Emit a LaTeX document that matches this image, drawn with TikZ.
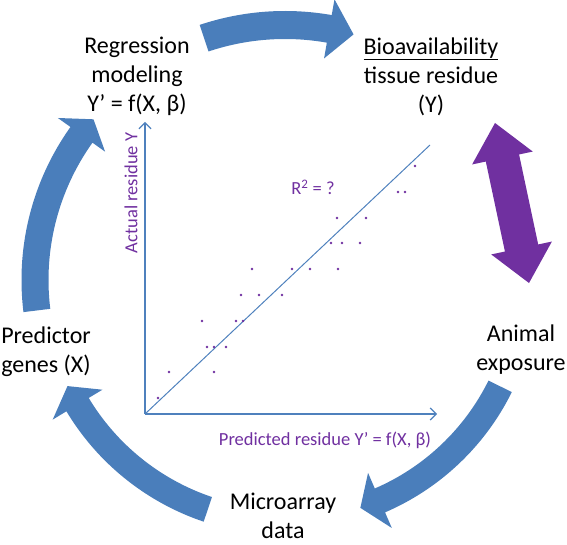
\documentclass[tikz,border=0pt]{standalone}
\usepackage{fontspec}
\setmainfont{Carlito}
\usetikzlibrary{calc,arrows.meta}
\definecolor{arrowblue}{RGB}{74,126,187}
\definecolor{axisblue}{RGB}{79,129,189}
\definecolor{plotpurple}{RGB}{112,48,160}
\newcommand\cyclearrow[6]{%
  \pgfmathsetmacro\rOut{#4+#5}%
  \pgfmathsetmacro\rIn{#4-#5}%
  \pgfmathsetmacro\hOut{#4+#6}%
  \pgfmathsetmacro\hIn{#4-#6}%
  \fill[arrowblue] ($(C)+(#1:\rOut pt)$) arc[start angle=#1,end angle=#2,radius=\rOut pt]
    -- ($(C)+(#2:\hOut pt)$) -- ($(C)+(#3:#4 pt)$) -- ($(C)+(#2:\hIn pt)$)
    -- ($(C)+(#2:\rIn pt)$) arc[start angle=#2,end angle=#1,radius=\rIn pt] -- cycle;}
\tikzset{
  label/.style={font=\fontsize{24}{29}\selectfont, align=center, inner sep=0pt, text=black},
  plottext/.style={font=\fontsize{18.5}{22}\selectfont, text=plotpurple, inner sep=0pt},
  axis/.style={draw=axisblue, line width=1.2pt},
}
\begin{document}
\begin{tikzpicture}[x=1pt,y=1pt]
\useasboundingbox (0,0) rectangle (567,544);
\coordinate (C) at (285,264);
% cycle arrows
\cyclearrow{108.5}{80}{74.4}{255}{14}{30}
\cyclearrow{187}{144.5}{140}{250}{13.5}{29}
\cyclearrow{251.4}{211}{206}{242}{13}{29}
\cyclearrow{333.7}{293.3}{288.3}{240}{13}{30}
% purple double arrow
\fill[plotpurple, shift={(512,341)}, rotate=102]
  (81.8,0) -- (46,31) -- (46,17) -- (-46,17) -- (-46,31) -- (-81.8,0)
  -- (-46,-31) -- (-46,-17) -- (46,-17) -- (46,-31) -- cycle;
% plot
\coordinate (O) at (145,130);
\coordinate (Ytop) at (145,422);
\coordinate (Xend) at (437,130);
\coordinate (Lend) at (430,399);
\draw[axis, -{Straight Barb[length=6pt,width=12pt]}] (O) -- (Ytop);
\draw[axis, -{Straight Barb[length=6pt,width=12pt]}] (O) -- (Xend);
\draw[draw=axisblue, line width=1pt] (O) -- (Lend);
\foreach \px/\py in {415/166,398/192,405/192,337/218,366/218,331/243,342/243,360/243,
  252/269,292/269,310/269,338/269,241/295,259/295,282/295,202/321,236/321,243/321,
  207/347,214/347,226/347,169/372,214/372,158/398}
  \fill[plotpurple] (\px,544-\py) circle (1.4pt);
\node[plottext] (r2) at (313,357) {R\textsuperscript{2} = ?};
\node[plottext, rotate=90] (ylab) at (131,351) {Actual residue Y};
\node[plottext] (xlab) at (325,104) {Predicted residue Y’ = f(X, β)};
% labels
\node[label] (reg) at (137,467.5) {Regression\\modeling\\Y’ = f(X, β)};
\node[label] (bio) at (431,467.5) {\underline{Bioavailability}\\tissue residue\\(Y)};
\node[label] (ani) at (521,194) {Animal\\exposure};
\node[label] (mic) at (283,28) {Microarray\\data};
\node[label] (pre) at (46,192) {Predictor\\genes (X)};
\end{tikzpicture}
\end{document}
